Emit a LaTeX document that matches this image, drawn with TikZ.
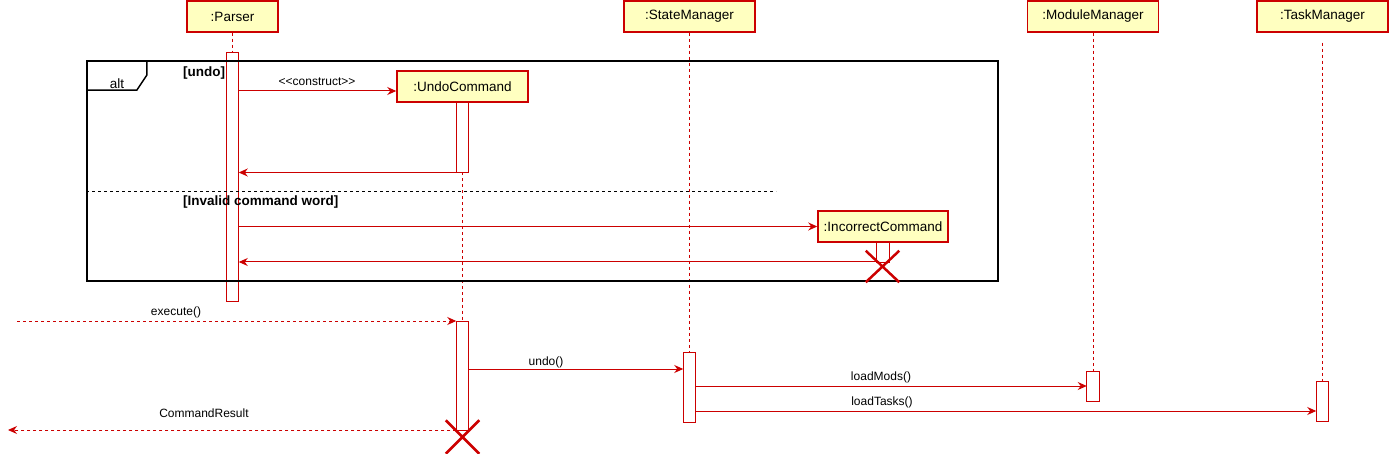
\documentclass[tikz,border=0pt]{standalone}
\usepackage{fontspec}
\setmainfont{Liberation Sans}
\usetikzlibrary{arrows.meta,positioning,shapes.misc}
\definecolor{seqred}{HTML}{CC0000}
\definecolor{seqyellow}{HTML}{FFFFC0}
\tikzset{
	head/.style={draw=seqred,fill=seqyellow,line width=1.5pt,minimum height=31,inner sep=0pt,font=\fontsize{13.5}{15}\selectfont},
	act/.style={draw=seqred,fill=white,line width=0.9pt,minimum width=12.5,inner sep=0pt,outer sep=0pt,anchor=north},
	life/.style={draw=seqred,line width=0.8pt,dash pattern=on 3pt off 3pt},
	msg/.style={draw=seqred,line width=1pt,-{Stealth[length=9pt,width=8pt]}},
	ret/.style={msg,dash pattern=on 3pt off 3pt},
	lbl/.style={font=\fontsize{12}{14}\selectfont,inner sep=0pt},
	guard/.style={font=\bfseries\fontsize{13.5}{15}\selectfont,inner sep=0pt,anchor=west},
	altframe/.style={draw=black,line width=1.5pt},
	kill/.style={cross out,draw=seqred,line width=2.5pt,inner sep=0pt}
}
\begin{document}
\begin{tikzpicture}[x=1pt,y=-1pt]
	\useasboundingbox (0,0) rectangle (1389,454);
	\node[head,minimum width=91] (parser) at (232.5,16.5) {:Parser};
	\node[head,minimum width=131] (sm) at (689.5,16.5) {:StateManager};
	\node[head,minimum width=131] (mm) at (1093,16.5) {:ModuleManager};
	\node[head,minimum width=131] (tm) at (1322.5,16.5) {:TaskManager};
	\node[head,minimum width=131] (uc) at (462.5,86.5) {:UndoCommand};
	\node[head,minimum width=130] (ic) at (883,226.5) {:IncorrectCommand};
	
	\node[act,minimum height=249] (pact) at (232.5,52) {};
	\node[act,minimum height=70.5] (uact1) at (462.5,102) {};
	\node[act,minimum height=20] (iact) at (883,242) {};
	\node[act,minimum height=109] (uact2) at (462.5,321) {};
	\node[act,minimum height=70] (sact) at (689.5,352) {};
	\node[act,minimum height=30] (mact) at (1093,371) {};
	\node[act,minimum height=40] (tact) at (1322.5,381) {};
	
	\draw[life] (parser.south) -- (pact.north);
	\draw[life] (uact1.south) -- (uact2.north);
	\draw[life] (sm.south) -- (sact.north);
	\draw[life] (mm.south) -- (mact.north);
	\draw[life] ([yshift=-10pt]tm.south) -- (tact.north);
	
	\node[altframe,minimum width=911,minimum height=220,inner sep=0pt] (alt) at (542.5,171) {};
	\draw[altframe] ([yshift=-30pt]alt.north west) -- ++(50.5,0) -- ++(10,-15) -- ++(0,-15);
	\node[font=\fontsize{13.5}{15}\selectfont,inner sep=0pt] (altlbl) at (117,84) {alt};
	\coordinate (ysep) at (0,191);
	\draw[black,line width=0.8pt,dash pattern=on 3pt off 3pt] (alt.west |- ysep) -- ++(690,0);
	\node[guard] (gundo) at (183,73) {[undo]};
	\node[guard] (ginvalid) at (183,202) {[Invalid command word]};
	
	\coordinate (ycons) at (0,91);
	\coordinate (yundo) at (0,369);
	\coordinate (ymods) at (0,386);
	\coordinate (ytasks) at (0,411);
	\coordinate (exsrc) at (17,321);
	\coordinate (crdst) at (8,430);
	
	\draw[msg] (pact.east |- ycons) -- (uc.west |- ycons);
	\node[lbl] (lcons) at (317,82) {{<}{<}construct{>}{>}};
	\draw[msg] (uact1.south west) -- (pact.east |- uact1.south);
	\draw[msg] (pact.east |- ic.west) -- (ic.west);
	\draw[msg] (iact.south west) -- (pact.east |- iact.south);
	\draw[ret] (exsrc) -- (uact2.north west);
	\node[lbl] (lexec) at (176,312) {execute()};
	\draw[msg] (uact2.east |- yundo) -- (sact.west |- yundo);
	\node[lbl] (lundo) at (546,362) {undo()};
	\draw[msg] (sact.east |- ymods) -- (mact.west |- ymods);
	\node[lbl] (lmods) at (881,377) {loadMods()};
	\draw[msg] (sact.east |- ytasks) -- (tact.west |- ytasks);
	\node[lbl] (ltasks) at (882,402) {loadTasks()};
	\draw[ret] (uact2.south west) -- (crdst);
	\node[lbl] (lresult) at (204,413) {CommandResult};
	
	\node[kill,minimum width=31,minimum height=31] (ucend) at (462.5,437) {};
	\node[kill,minimum width=31,minimum height=29] (icend) at (882.5,266.5) {};
\end{tikzpicture}
\end{document}
